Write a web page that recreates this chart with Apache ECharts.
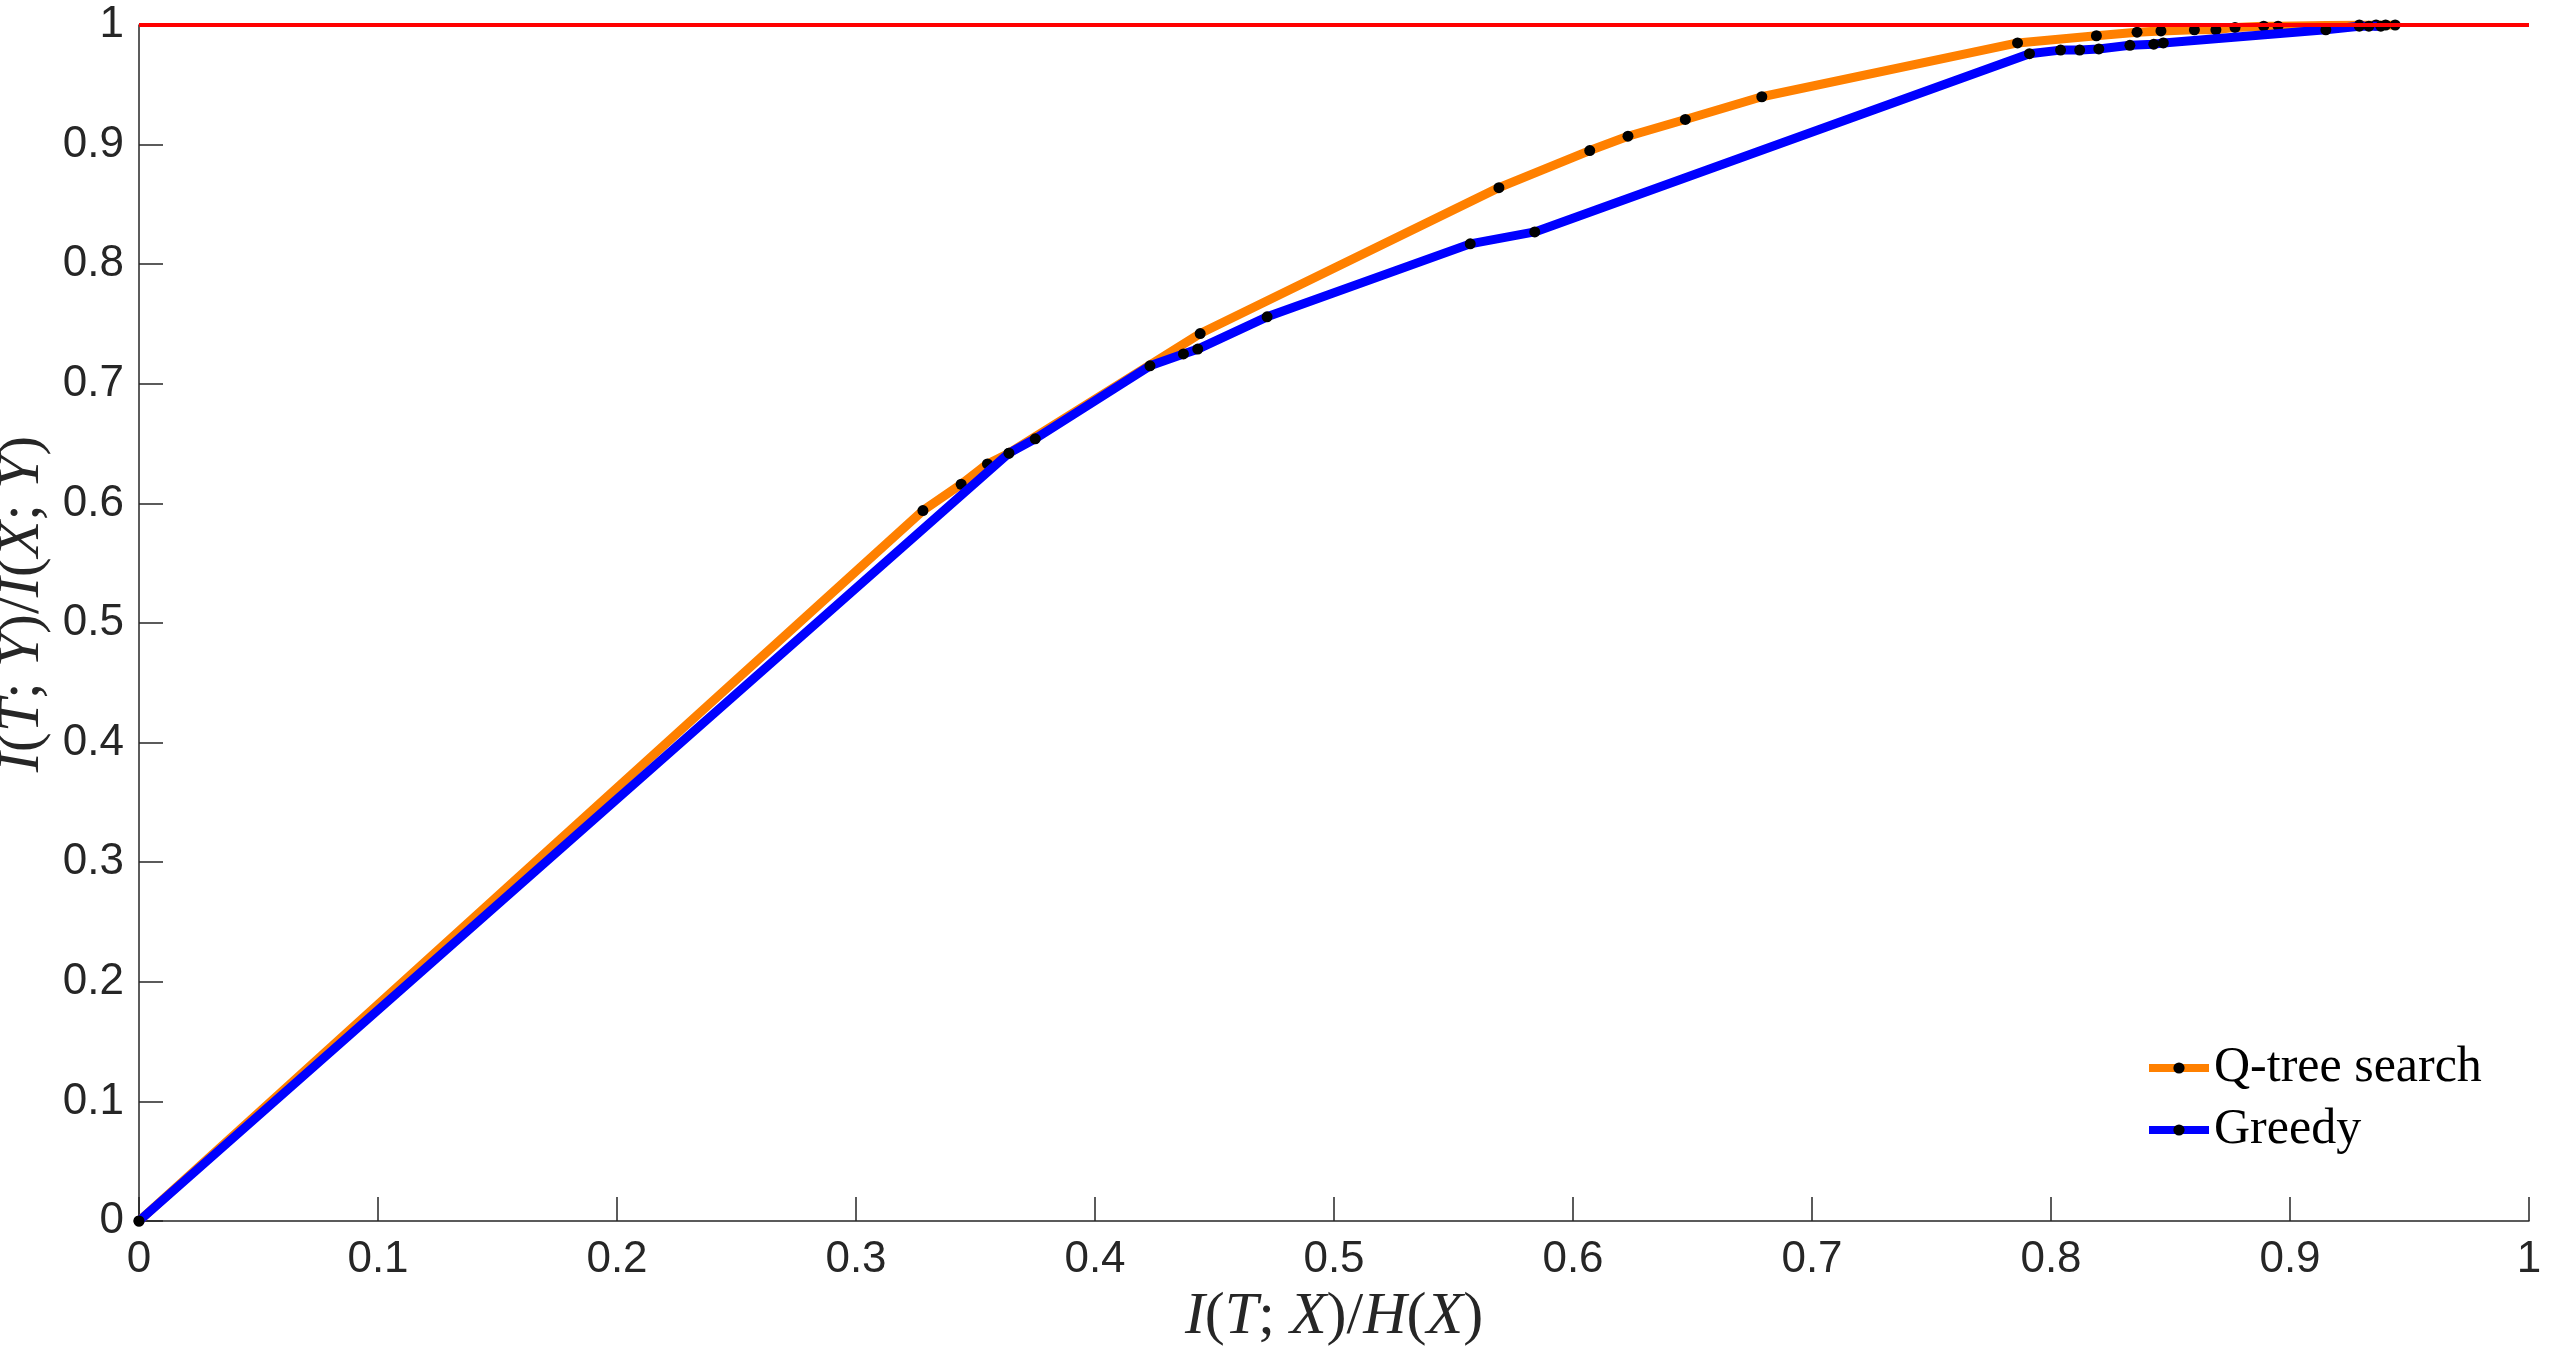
<!DOCTYPE html>
<html>
<head>
<meta charset="utf-8">
<title>Q-tree search vs Greedy</title>
<script src="https://cdn.jsdelivr.net/npm/echarts@6/dist/echarts.min.js"></script>
<style>
  html, body { margin: 0; padding: 0; background: #fff; }
  #chart { width: 2560px; height: 1346px; }
</style>
</head>
<body>
<div id="chart"></div>
<script>
// 数据：从图上读出来的点
const qtreeX = [0, 0.328, 0.344, 0.355, 0.364, 0.444, 0.569, 0.607, 0.623, 0.647, 0.679, 0.786, 0.819, 0.836, 0.846, 0.860, 0.869, 0.877, 0.889, 0.895, 0.929, 0.936, 0.944]
const qtreeY = [0, 0.594, 0.616, 0.633, 0.642, 0.742, 0.864, 0.895, 0.907, 0.921, 0.940, 0.985, 0.991, 0.994, 0.995, 0.996, 0.996, 0.998, 0.999, 0.999, 1.0, 1.0, 1.0]

const greedyX = [0, 0.364, 0.375, 0.423, 0.437, 0.443, 0.472, 0.557, 0.584, 0.791, 0.804, 0.812, 0.820, 0.833, 0.843, 0.847, 0.915, 0.929, 0.933, 0.938, 0.940]
const greedyY = [0, 0.642, 0.654, 0.715, 0.725, 0.729, 0.756, 0.817, 0.827, 0.976, 0.979, 0.979, 0.980, 0.983, 0.984, 0.985, 0.996, 0.999, 0.999, 0.999, 1.0]

// 上限参考线 y = 1
const refX = [0, 1]
const refY = [1, 1]

const seriesNames = ['Q-tree search', 'Greedy']

const zip = (xs, ys) => xs.map((x, i) => [x, ys[i]])

const axisColor = '#262626'
const tickFont = 'Liberation Sans, Helvetica, Arial, sans-serif'
const serifFont = 'Liberation Serif, DejaVu Serif, serif'

// 轴标题用 rich text：字母斜体，括号分号直立
const mathRich = (size) => ({
  i: { fontFamily: serifFont, fontStyle: 'italic', fontSize: size, color: axisColor },
  n: { fontFamily: serifFont, fontStyle: 'normal', fontSize: size, color: axisColor }
})

const chartInstance = echarts.init(document.getElementById('chart'))

const option = {
  animation: false,
  backgroundColor: '#fff',
  grid: {
    left: 139,
    right: 31,
    top: 25,
    bottom: 125,
    containLabel: false,
    outerBoundsMode: 'none'
  },
  legend: {
    data: seriesNames,
    orient: 'vertical',
    left: 2140,
    top: 1038,
    itemWidth: 60,
    itemHeight: 14,
    itemGap: 12,
    lineStyle: { width: 8 },
    textStyle: {
      fontFamily: serifFont,
      fontSize: 50,
      color: '#000'
    }
  },
  xAxis: {
    type: 'value',
    min: 0,
    max: 1,
    interval: 0.1,
    name: '{i|I}{n|(}{i|T}{n|; }{i|X}{n|)/}{i|H}{n|(}{i|X}{n|)}',
    nameLocation: 'middle',
    nameGap: 60,
    nameTextStyle: { rich: mathRich(60) },
    axisLine: { lineStyle: { color: axisColor, width: 1.5 } },
    axisTick: { inside: true, length: 24, lineStyle: { color: axisColor, width: 1.5 } },
    axisLabel: {
      color: axisColor,
      fontFamily: tickFont,
      fontSize: 44,
      margin: 17
    },
    splitLine: { show: false }
  },
  yAxis: {
    type: 'value',
    min: 0,
    max: 1,
    interval: 0.1,
    name: '{i|I}{n|(}{i|T}{n|; }{i|Y}{n|)/}{i|I}{n|(}{i|X}{n|; }{i|Y}{n|)}',
    nameLocation: 'middle',
    nameRotate: 90,
    nameGap: 78,
    nameTextStyle: { rich: mathRich(60), padding: [0, 0, 0, 38] },
    axisLine: { show: true, lineStyle: { color: axisColor, width: 1.5 } },
    axisTick: { show: true, inside: true, length: 24, lineStyle: { color: axisColor, width: 1.5 } },
    axisLabel: {
      color: axisColor,
      fontFamily: tickFont,
      fontSize: 44,
      margin: 15
    },
    splitLine: { show: false }
  },
  series: [
    {
      name: seriesNames[0],
      type: 'line',
      data: zip(qtreeX, qtreeY),
      symbol: 'circle',
      symbolSize: 11,
      showAllSymbol: true,
      itemStyle: { color: '#000' },
      lineStyle: { color: '#ff8000', width: 9 },
      z: 2
    },
    {
      name: seriesNames[1],
      type: 'line',
      data: zip(greedyX, greedyY),
      symbol: 'circle',
      symbolSize: 11,
      showAllSymbol: true,
      itemStyle: { color: '#000' },
      lineStyle: { color: '#0000ff', width: 9 },
      z: 3
    },
    {
      name: 'ref',
      type: 'line',
      data: zip(refX, refY),
      symbol: 'none',
      lineStyle: { color: '#ff0000', width: 4 },
      z: 4
    }
  ]
}

chartInstance.setOption(option)
</script>
</body>
</html>
